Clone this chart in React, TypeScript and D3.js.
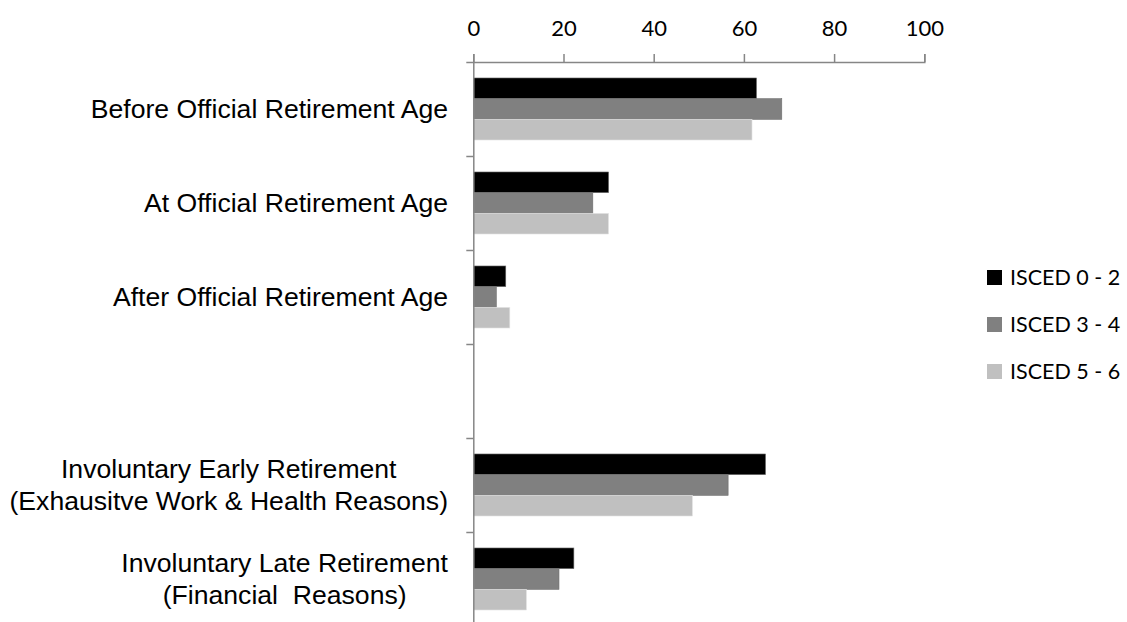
import { useEffect, useRef } from 'react'
import * as d3 from 'd3'

const categories = [
  ['Before Official Retirement Age'],
  ['At Official Retirement Age'],
  ['After Official Retirement Age'],
  [],
  ['Involuntary Early Retirement', '(Exhausitve Work & Health Reasons)'],
  ['Involuntary Late Retirement', '(Financial  Reasons)'],
]
const series = ['ISCED 0 - 2', 'ISCED 3 - 4', 'ISCED 5 - 6']
const colors = ['#000000', '#808080', '#c0c0c0']
const isced02 = [62.8, 30.0, 7.2, null, 64.8, 22.3]
const isced34 = [68.4, 26.5, 5.1, null, 56.5, 19.0]
const isced56 = [61.8, 30.0, 8.1, null, 48.6, 11.8]
const xTicks = [0, 20, 40, 60, 80, 100]

export default function App() {
  const svgRef = useRef<SVGSVGElement>(null)

  useEffect(() => {
    const el = svgRef.current
    if (!el) return
    d3.select(el).selectAll('*').remove()
    const svg = d3.select(el)

    const x = d3.scaleLinear().domain([0, 100]).range([473.3, 924.3])
    const yIdx = d3.scaleLinear().domain([0, categories.length]).range([62, 62 + 94 * categories.length])
    const y0 = d3.scaleBand<number>().domain(d3.range(categories.length)).range(yIdx.range() as [number, number]).padding(0)
    const bw = y0.bandwidth()
    const y1 = d3.scaleBand<number>().domain(d3.range(series.length)).range([bw * 0.17, bw * 0.83]).padding(0)

    const values = [isced02, isced34, isced56]

    // bars
    const grp = svg.append('g')
    categories.forEach((_, ci) => {
      values.forEach((vals, si) => {
        const v = vals[ci]
        if (v == null) return
        grp.append('rect')
          .attr('x', x(0))
          .attr('y', y0(ci)! + y1(si)!)
          .attr('width', x(v) - x(0))
          .attr('height', y1.bandwidth())
          .attr('fill', colors[si])
          .attr('stroke', si === 2 ? '#e6e6e6' : '#6e6e6e')
          .attr('stroke-width', 0.6)
      })
    })

    // x axis on top
    const xa = svg.append('g')
      .attr('transform', `translate(0,${yIdx(0)})`)
      .call(d3.axisTop(x).tickValues(xTicks).tickSize(8).tickSizeOuter(8).tickPadding(18).tickFormat(d3.format('d')))
    xa.selectAll('path, line').attr('stroke', '#868686').attr('stroke-width', 1.5)
    xa.selectAll('text').attr('font-family', 'Lato, "Open Sans", sans-serif').attr('font-size', 22).attr('fill', '#000')

    // y axis
    const ya = svg.append('g')
      .attr('transform', `translate(${x(0)},0)`)
      .call(d3.axisLeft(yIdx).tickValues(d3.range(categories.length + 1)).tickSize(7).tickSizeOuter(0).tickFormat(() => ''))
    ya.selectAll('path, line').attr('stroke', '#868686').attr('stroke-width', 1.5)

    // category labels (multi-line ones centred on each other, block right-aligned)
    const lineH = 32
    categories.forEach((lines, ci) => {
      if (!lines.length) return
      const cy = y0(ci)! + bw / 2
      const g = svg.append('g')
      const texts = lines.map((l, li) =>
        g.append('text')
          .attr('y', cy + (li - (lines.length - 1) / 2) * lineH)
          .attr('dy', '0.35em')
          .attr('font-family', '"Liberation Sans", Arial, sans-serif')
          .attr('font-size', 26.6)
          .attr('fill', '#000')
          .style('white-space', 'pre')
          .text(l))
      const widths = texts.map(t => (t.node() as SVGTextElement).getComputedTextLength())
      const maxW = Math.max(...widths)
      const cx = 448 - maxW / 2
      texts.forEach(t => t.attr('x', cx).attr('text-anchor', 'middle'))
    })

    // legend
    const leg = svg.append('g').attr('transform', 'translate(987,270)')
    series.forEach((s, i) => {
      const row = leg.append('g').attr('transform', `translate(0,${i * 47})`)
      row.append('rect').attr('width', 15).attr('height', 15).attr('fill', colors[i])
      row.append('text')
        .attr('x', 23)
        .attr('y', 15)
        .attr('font-family', 'Lato, "Open Sans", sans-serif')
        .attr('font-size', 21.5)
        .attr('fill', '#000')
        .text(s)
    })
  }, [])

  return (
    <svg ref={svgRef} width={1127} height={622} style={{ position: 'absolute', left: 0, top: 0, background: '#fff' }} />
  )
}
